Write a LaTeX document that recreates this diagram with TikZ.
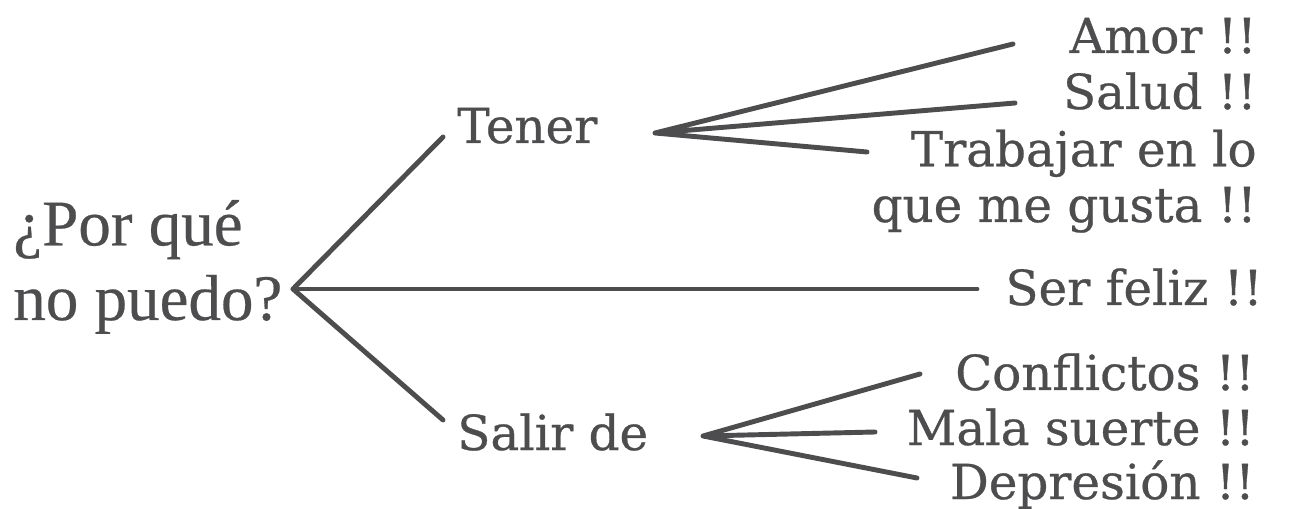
\documentclass[tikz,border=0pt]{standalone}
\usepackage{fontspec}
\setmainfont{DejaVu Serif}[FakeBold=0.6]
\newfontfamily\askfont{Liberation Serif}[FakeBold=0.4]
\usepackage{tikz}
\usetikzlibrary{positioning}
\definecolor{ink}{RGB}{77,77,79}
\tikzset{
  branch/.style={ink,line width=2.8pt,line cap=round,line join=round},
  leaf/.style={ink,inner sep=0pt,anchor=base east,align=right,font=\fontsize{27.5}{31.7}\selectfont},
  stem/.style={ink,inner sep=0pt,anchor=base west,font=\fontsize{27.5}{31.7}\selectfont},
}
\begin{document}
\begin{tikzpicture}[x=0.02cm,y=-0.02cm]
\useasboundingbox (0,0) rectangle (1290,509);
% question and the two verbs
\node[ink,inner sep=0pt,anchor=base west,align=left,font=\askfont\fontsize{37}{42.5}\selectfont] (ask) at (13,320) {¿Por qué\\no puedo?};
\node[stem] (tener) at (457,143) {Tener};
\node[stem] (salir) at (457,450) {Salir de};
% answers
\node[leaf] (amor) at (1257,53) {Amor !!};
\node[leaf] (salud) at (1257,109) {Salud !!};
\node[leaf] (trabajar) at (1257,222) {Trabajar en lo\\que me gusta !!};
\node[leaf] (feliz) at (1263,305) {Ser feliz !!};
\node[leaf] (conflictos) at (1255,390) {Conflictos !!};
\node[leaf] (mala) at (1255,445) {Mala suerte !!};
\node[leaf] (depresion) at (1255,499) {Depresión !!};
% forks and line ends
\coordinate (root) at (293,289);
\coordinate (tenerfork) at (655,133);
\coordinate (salirfork) at (703,436);
\coordinate (tenerend) at (443,137);
\coordinate (salirend) at (443,420);
\coordinate (felizend) at (977,289);
\coordinate (amorend) at (1013,44);
\coordinate (saludend) at (1015,103);
\coordinate (trabajarend) at (867,152);
\coordinate (conflictosend) at (920,374);
\coordinate (malaend) at (875,432);
\coordinate (depresionend) at (917,478);
% branches
\draw[branch](tenerend)--(root)--(salirend);
\draw[branch](root)--(felizend);
\draw[branch](amorend)--(tenerfork)--(saludend)
  (tenerfork)--(trabajarend);
\draw[branch](conflictosend)--(salirfork)--(depresionend)
  (salirfork)--(malaend);
\end{tikzpicture}
\end{document}
